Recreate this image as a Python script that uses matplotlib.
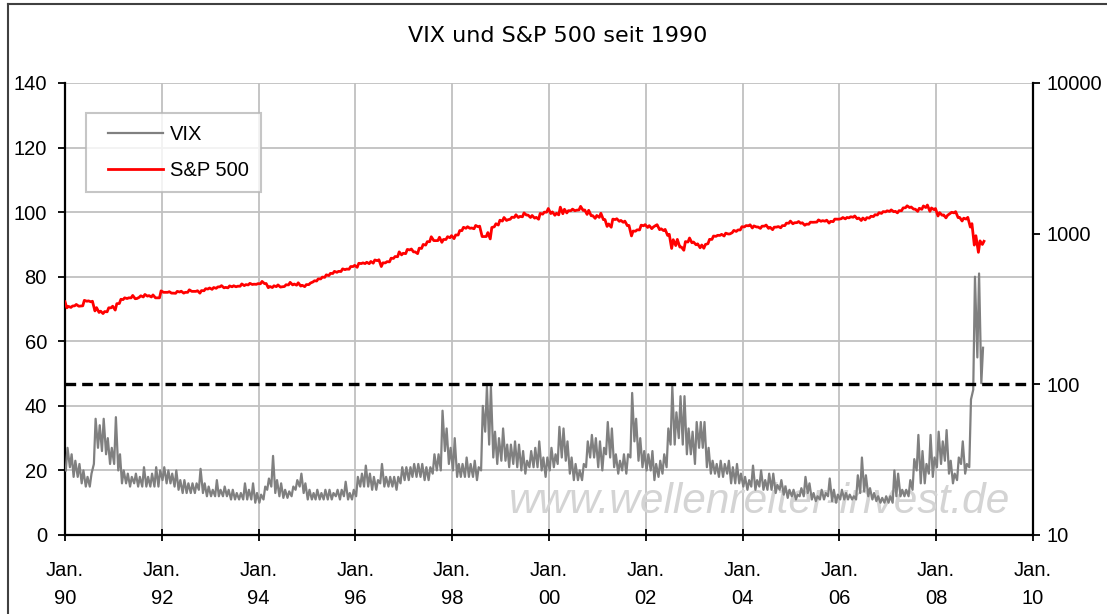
import matplotlib
matplotlib.use("Agg")
import matplotlib.pyplot as plt
import matplotlib.dates as mdates
from matplotlib.lines import Line2D
from matplotlib.legend_handler import HandlerLine2D
from matplotlib.ticker import FuncFormatter, MultipleLocator, FixedLocator, NullLocator
import pandas as pd

plt.rcParams['font.family'] = ['Liberation Sans', 'DejaVu Sans']

title = "VIX und S&P 500 seit 1990"
watermark = "www.wellenreiter-invest.de"

# VIX, Monatsspanne (tief / hoch), Jan 1990 .. Dez 2008
vix_lo = [
    20, 21, 18, 18, 16, 15, 15, 22, 27, 26, 25, 22,
    22, 20, 16, 16, 15, 16, 15, 15, 15, 15, 15, 15,
    17, 16, 16, 15, 14, 13, 13, 13, 13, 14, 13, 12,
    12, 12, 12, 12, 12, 11, 11, 11, 11, 11, 11, 10,
    10, 11, 14, 15, 13, 12, 11.5, 11.5, 12, 14, 15, 13,
    11, 11, 11, 11, 11, 11, 11, 12, 11, 12, 11, 11,
    12, 15, 15, 15, 14, 14, 16, 15, 15, 15, 14, 16,
    17, 17, 18, 18, 18, 17, 17, 19, 20, 20, 26, 22,
    20, 18, 18, 18, 18, 18, 17, 20, 32, 28, 24, 22,
    23, 23, 21, 22, 21, 20, 19, 21, 21, 21, 20, 18,
    20, 21, 22, 24, 23, 19, 17, 17, 17, 21, 24, 24,
    21, 20, 25, 24, 21, 19, 20, 19, 24, 29, 23, 21,
    20, 20, 17, 18, 19, 21, 28, 28, 30, 28, 25, 25,
    22, 27, 27, 21, 19, 19, 18, 18, 19, 16, 16, 16,
    15, 14, 15, 14, 15, 14, 14, 14, 13, 14, 12.5, 11.5,
    12, 11, 12, 12, 13, 11, 10.5, 11, 11, 12, 10.5, 10,
    11, 11, 11, 11, 11, 13, 13.5, 12, 11, 10.5, 10, 10,
    10, 10, 12, 12, 12, 12, 14, 20, 16, 16, 19, 18,
    21, 22, 23, 19, 16, 17, 22, 19, 21, 45, 55, 47,
]
vix_hi = [
    27, 25, 23, 22, 20, 18, 19, 36, 34, 36, 30, 27,
    36.5, 25, 20, 19, 18, 19, 18, 21, 18, 19, 21, 20,
    21, 20, 19, 20, 17, 17, 16, 16, 16, 20.5, 16, 15,
    14, 17, 14, 15, 14, 14, 13, 13, 16, 14, 16, 13,
    12.5, 15, 17.5, 24.5, 17, 16, 14, 13.5, 15, 17, 19, 16,
    14, 13, 14, 13, 14, 14, 13, 14, 14, 16.5, 13, 14,
    18, 19, 21.5, 19, 18, 17, 22, 18, 18, 18, 18, 21,
    21, 21, 22, 22, 22, 21, 21, 25, 25, 38.5, 33, 27,
    30, 22, 22, 24, 22, 23, 21, 40, 46, 46, 32, 30,
    33, 28, 28, 29, 28, 26, 23, 26, 27, 29, 24, 24,
    27, 25, 33.5, 33, 29, 24, 22, 20, 22, 29, 31, 30,
    29, 27, 35, 33, 25, 23, 25, 25, 44, 36, 30, 26,
    25, 26, 22, 23, 25, 33, 46, 38, 43, 43, 33, 32,
    35, 35, 35, 27, 23, 22, 23, 22, 23, 21, 22, 19,
    18, 17, 21.5, 17, 20, 17, 19, 19, 15.5, 17, 15, 14,
    14, 12.5, 14.5, 18, 16, 13, 12, 14, 13, 17.5, 14, 12.5,
    14, 13, 12.5, 12, 18.5, 24, 18.5, 14.5, 13, 12, 11.5, 12,
    12, 20, 19, 14, 14, 17, 23.5, 31, 26, 22, 31, 24,
    32, 29, 32.5, 23, 19, 24, 29, 22, 42, 80, 81, 58,
]

# S&P 500, Monatstief und Monatsschluss
sp_start = 353
sp_low = [
    322, 324, 332, 330, 332, 356, 353, 307, 300, 295, 303, 322,
    311, 344, 365, 371, 375, 370, 378, 380, 385, 380, 375, 375,
    408, 408, 403, 402, 410, 403, 408, 414, 414, 403, 418, 429,
    427, 434, 444, 437, 437, 444, 444, 448, 452, 457, 460, 461,
    465, 466, 438, 439, 445, 442, 446, 457, 457, 455, 449, 445,
    459, 478, 485, 501, 513, 527, 544, 554, 561, 577, 581, 605,
    598, 633, 633, 632, 637, 662, 605, 640, 650, 685, 703, 723,
    737, 780, 757, 737, 798, 840, 885, 900, 900, 876, 915, 940,
    927, 980, 1047, 1086, 1085, 1078, 1112, 957, 957, 923, 1111, 1141,
    1212, 1224, 1247, 1282, 1280, 1294, 1329, 1281, 1268, 1247, 1347, 1389,
    1360, 1325, 1333, 1356, 1373, 1420, 1420, 1438, 1426, 1342, 1315, 1264,
    1283, 1239, 1117, 1103, 1240, 1208, 1190, 1129, 966, 1038, 1059, 1128,
    1100, 1080, 1131, 1063, 1048, 973, 798, 834, 815, 776, 880, 870,
    844, 806, 800, 858, 916, 960, 974, 965, 995, 1015, 1035, 1059,
    1108, 1128, 1091, 1108, 1084, 1122, 1084, 1063, 1106, 1094, 1131, 1173,
    1163, 1184, 1172, 1137, 1155, 1190, 1194, 1208, 1210, 1176, 1202, 1248,
    1257, 1254, 1273, 1285, 1256, 1223, 1234, 1269, 1299, 1331, 1363, 1395,
    1405, 1399, 1374, 1420, 1486, 1490, 1455, 1406, 1451, 1490, 1407, 1445,
    1310, 1326, 1273, 1360, 1375, 1278, 1214, 1250, 1106, 840, 752, 848,
]
sp_close = [
    329, 331, 339, 331, 361, 358, 356, 323, 306, 304, 322, 330,
    343, 367, 375, 375, 389, 371, 387, 395, 388, 392, 375, 417,
    408, 412, 403, 414, 415, 408, 424, 414, 418, 419, 431, 436,
    439, 443, 452, 440, 450, 451, 448, 464, 459, 468, 462, 466,
    482, 467, 446, 451, 457, 444, 458, 475, 463, 472, 454, 459,
    470, 487, 501, 515, 533, 545, 562, 562, 584, 582, 605, 616,
    636, 640, 646, 654, 669, 671, 640, 652, 687, 705, 757, 741,
    786, 791, 757, 801, 848, 885, 954, 899, 947, 915, 955, 970,
    980, 1049, 1102, 1112, 1091, 1134, 1121, 957, 1017, 1099, 1164, 1229,
    1280, 1238, 1286, 1335, 1302, 1373, 1329, 1320, 1283, 1363, 1389, 1469,
    1394, 1366, 1499, 1452, 1421, 1455, 1431, 1518, 1437, 1429, 1315, 1320,
    1366, 1240, 1160, 1249, 1256, 1224, 1211, 1134, 1041, 1060, 1139, 1148,
    1130, 1107, 1147, 1077, 1067, 990, 912, 916, 815, 886, 936, 880,
    856, 841, 848, 917, 964, 975, 990, 1008, 996, 1051, 1058, 1112,
    1131, 1145, 1126, 1107, 1121, 1141, 1102, 1104, 1115, 1130, 1174, 1212,
    1181, 1204, 1181, 1157, 1192, 1191, 1234, 1220, 1229, 1207, 1249, 1248,
    1280, 1281, 1295, 1311, 1270, 1270, 1277, 1304, 1336, 1378, 1401, 1418,
    1438, 1407, 1421, 1482, 1531, 1503, 1455, 1474, 1527, 1549, 1481, 1468,
    1379, 1331, 1323, 1386, 1400, 1280, 1267, 1283, 1165, 969, 896, 890,
]
marker_level = 100   # gestrichelte Linie, rechte Achse

months = pd.date_range("1990-01-01", periods=len(vix_lo), freq="MS")

# Zeitreihen aufbauen: je Monat zwei Punkte
vix_x, vix_y = [], []
for m, lo, hi in zip(months, vix_lo, vix_hi):
    vix_x += [m + pd.Timedelta(days=6), m + pd.Timedelta(days=19)]
    vix_y += [lo, hi]

sp_x, sp_y = [months[0]], [sp_start]
for m, lo, cl in zip(months, sp_low, sp_close):
    sp_x += [m + pd.Timedelta(days=14), m + pd.Timedelta(days=26)]
    sp_y += [lo, cl]

W, H = 1107, 614
fig = plt.figure(figsize=(W / 100, H / 100), dpi=100)
ax = fig.add_axes([65 / W, 1 - 535 / H, (1033 - 65) / W, (535 - 83) / H])
ax2 = ax.twinx()

fs = 14.5
grid_c = "#c0c0c0"

l1, = ax.plot(vix_x, vix_y, color="#808080", lw=1.6, zorder=3)
l2, = ax2.plot(sp_x, sp_y, color="#ff0000", lw=2.0, zorder=3)
ax2.axhline(marker_level, color="black", lw=2.4, ls=(0, (3.2, 1.8)), zorder=4)

ax.text(0.977, 0.073, watermark, transform=ax.transAxes, ha="right", va="center",
        fontsize=30.5, style="italic", color="#d4d4d4", zorder=1)

ax.set_xlim(pd.Timestamp("1990-01-01"), pd.Timestamp("2010-01-01"))
ax.set_ylim(0, 140)
ax2.set_yscale("log")
ax2.set_ylim(10, 10000)

ax.yaxis.set_major_locator(MultipleLocator(20))
ax.xaxis.set_major_locator(mdates.YearLocator(2, month=1, day=1))
ax.xaxis.set_major_formatter(FuncFormatter(
    lambda v, p: "Jan.\n%02d" % (mdates.num2date(v).year % 100)))
ax2.yaxis.set_major_locator(FixedLocator([10, 100, 1000, 10000]))
ax2.yaxis.set_minor_locator(NullLocator())
ax2.yaxis.set_major_formatter(FuncFormatter(lambda v, p: "%d" % v))

ax.grid(True, color=grid_c, lw=1.3)
ax.set_axisbelow(True)

for a in (ax, ax2):
    a.spines["top"].set_visible(False)
    for s in ("left", "bottom", "right"):
        a.spines[s].set_color("black")
        a.spines[s].set_linewidth(1.6)
ax.spines["right"].set_visible(False)
ax2.spines["left"].set_visible(False)
ax2.spines["bottom"].set_visible(False)

ax.tick_params(axis="y", direction="out", length=5, width=1.3, pad=8, labelsize=fs)
ax.tick_params(axis="x", direction="inout", length=9, width=1.3, pad=14, labelsize=fs)
ax2.tick_params(axis="y", direction="out", length=5, width=1.3, pad=5, labelsize=fs)
for t in ax.get_xticklabels():
    t.set_linespacing(1.65)

leg = ax2.legend([l1, l2], ["VIX", "S&P 500"], loc="upper left",
                 bbox_to_anchor=(0.0217, 0.934), borderaxespad=0, fontsize=fs,
                 frameon=True, fancybox=False, edgecolor="#b8b8b8",
                 handlelength=3.2, handletextpad=0.35, borderpad=0.6, labelspacing=0.85,
                 handler_map={l1: HandlerLine2D(xpad=0.5), l2: HandlerLine2D(xpad=0.5)})
leg.get_frame().set_linewidth(1.5)
leg.set_zorder(10)

fig.text(558 / W, 1 - 36 / H, title, ha="center", va="center", fontsize=16,
         family=["DejaVu Sans"])

# Rahmen des Diagrammbereichs (links und oben)
fig.add_artist(Line2D([8 / W, 8 / W], [0, 1 - 4 / H], transform=fig.transFigure,
                      color="#404040", lw=1.5))
fig.add_artist(Line2D([8 / W, 1], [1 - 4 / H, 1 - 4 / H], transform=fig.transFigure,
                      color="#404040", lw=1.5))

fig.savefig("out.png", dpi=100)
